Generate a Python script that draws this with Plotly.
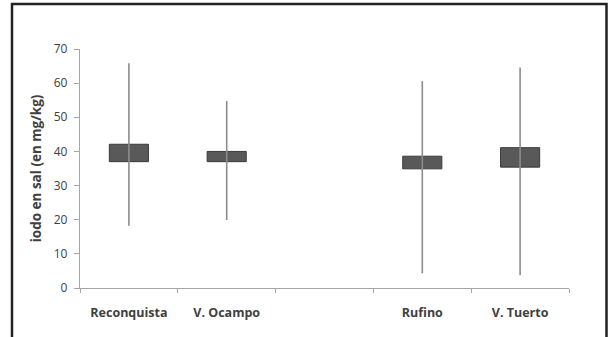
import plotly.graph_objects as go

# Sites (blank slot keeps the gap between the two groups)
sites = ["Reconquista", "V. Ocampo", " ", "Rufino", "V. Tuerto"]
data_sites = ["Reconquista", "V. Ocampo", "Rufino", "V. Tuerto"]

# Iodine in salt (mg/kg): high, low, box top, box bottom
high = [65.8, 54.8, 60.6, 64.6]
low = [18.2, 19.9, 4.3, 3.7]
box_top = [42.1, 40.0, 38.6, 41.1]
box_bottom = [37.0, 37.0, 34.9, 35.4]

y_ticks = [0, 10, 20, 30, 40, 50, 60, 70]

# Whiskers as separated vertical segments
wx, wy = [], []
for s, h, l in zip(data_sites, high, low):
    wx += [s, s, None]
    wy += [l, h, None]

fig = go.Figure()
fig.add_trace(go.Scatter(
    x=wx, y=wy, mode="lines",
    line=dict(color="#8c8c8c", width=1.6),
    hoverinfo="skip", showlegend=False,
))
fig.add_trace(go.Bar(
    x=data_sites,
    y=[t - b for t, b in zip(box_top, box_bottom)],
    base=box_bottom,
    width=0.4,
    marker=dict(color="#595959", line=dict(color="#3a3a3a", width=1)),
    showlegend=False,
))

# Outer frame, in paper coordinates of the plotting area
W, H = 608, 337
L, R, T, B = 80, 39, 49, 49
pw, ph = W - L - R, H - T - B
def px(x):
    return (x - L) / pw
def py(y):
    return (H - B - y) / ph

fig.add_shape(type="rect", xref="paper", yref="paper",
              x0=px(12), x1=px(606.5), y0=py(360), y1=py(4),
              line=dict(color="#222222", width=2.5), fillcolor="rgba(0,0,0,0)",
              layer="above")

fig.update_layout(
    width=W, height=H,
    margin=dict(l=L, r=R, t=T, b=B),
    paper_bgcolor="white", plot_bgcolor="white",
    font=dict(family="Open Sans, sans-serif", color="#404040"),
    bargap=0.6,
    xaxis=dict(
        type="category", categoryorder="array", categoryarray=sites,
        range=[-0.5, 4.5],
        showline=True, linecolor="#a6a6a6", linewidth=1.3,
        ticks="outside", ticklen=4, tickcolor="#a6a6a6", tickson="boundaries",
        showgrid=False, zeroline=False,
        tickfont=dict(size=12.5, family="Open Sans, sans-serif", weight="bold", color="#404040"),
        ticklabelstandoff=13,
    ),
    yaxis=dict(
        range=[0, 70], tickvals=y_ticks,
        showline=True, linecolor="#a6a6a6", linewidth=1.3,
        ticks="outside", ticklen=5, tickcolor="#a6a6a6",
        showgrid=False, zeroline=False,
        tickfont=dict(size=12, color="#404040"),
        ticklabelstandoff=4,
        title=dict(text="iodo en sal (en mg/kg)", standoff=8,
                   font=dict(size=13.5, weight="bold", color="#404040")),
    ),
)

fig.write_html("out.html")
